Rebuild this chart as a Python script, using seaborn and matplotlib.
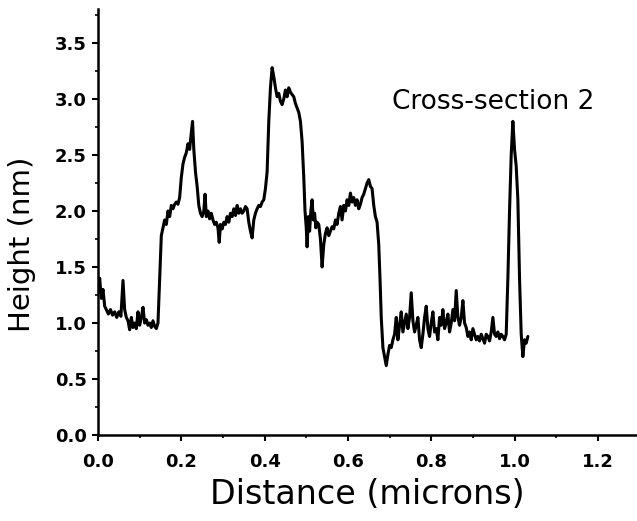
import matplotlib
matplotlib.use("Agg")
import matplotlib.pyplot as plt
from matplotlib.ticker import AutoMinorLocator
import seaborn as sns

# AFM cross-section trace
distance = [
    0.000, 0.004, 0.008, 0.012, 0.016, 0.020, 0.025, 0.030, 0.035, 0.040,
    0.045, 0.050, 0.055, 0.060, 0.064, 0.068, 0.072, 0.076, 0.080, 0.084,
    0.088, 0.092, 0.096, 0.100, 0.104, 0.108, 0.112, 0.116, 0.120, 0.124,
    0.128, 0.132, 0.136, 0.140, 0.144, 0.148, 0.152, 0.156, 0.160, 0.164,
    0.168, 0.172, 0.176, 0.180, 0.184, 0.188, 0.192, 0.196, 0.200, 0.204,
    0.208, 0.212, 0.216, 0.220, 0.224, 0.227, 0.230, 0.234, 0.238, 0.242,
    0.246, 0.250, 0.254, 0.257, 0.260, 0.264, 0.268, 0.272, 0.276, 0.280,
    0.284, 0.288, 0.291, 0.294, 0.298, 0.302, 0.306, 0.310, 0.314, 0.318,
    0.322, 0.326, 0.330, 0.334, 0.338, 0.342, 0.346, 0.350, 0.354, 0.358,
    0.362, 0.366, 0.370, 0.374, 0.378, 0.382, 0.386, 0.390, 0.394, 0.398,
    0.402, 0.406, 0.410, 0.414, 0.418, 0.422, 0.426, 0.430, 0.434, 0.438,
    0.442, 0.446, 0.450, 0.454, 0.458, 0.462, 0.466, 0.470, 0.474, 0.478,
    0.482, 0.486, 0.490, 0.494, 0.497, 0.500, 0.502, 0.505, 0.508, 0.511,
    0.514, 0.517, 0.520, 0.523, 0.526, 0.530, 0.534, 0.538, 0.542, 0.546,
    0.550, 0.554, 0.558, 0.562, 0.566, 0.570, 0.574, 0.578, 0.582, 0.586,
    0.590, 0.594, 0.598, 0.602, 0.606, 0.610, 0.614, 0.618, 0.622, 0.626,
    0.630, 0.634, 0.638, 0.642, 0.646, 0.650, 0.654, 0.658, 0.662, 0.666,
    0.670, 0.674, 0.677, 0.680, 0.684, 0.688, 0.692, 0.696, 0.700, 0.704,
    0.708, 0.712, 0.716, 0.720, 0.724, 0.728, 0.732, 0.736, 0.740, 0.744,
    0.748, 0.752, 0.756, 0.760, 0.764, 0.768, 0.772, 0.776, 0.780, 0.784,
    0.788, 0.792, 0.796, 0.800, 0.804, 0.808, 0.812, 0.816, 0.820, 0.824,
    0.828, 0.832, 0.836, 0.840, 0.844, 0.848, 0.852, 0.856, 0.860, 0.864,
    0.868, 0.872, 0.876, 0.880, 0.884, 0.888, 0.892, 0.896, 0.900, 0.904,
    0.908, 0.912, 0.916, 0.920, 0.924, 0.928, 0.932, 0.936, 0.940, 0.944,
    0.948, 0.952, 0.956, 0.960, 0.964, 0.968, 0.972, 0.976, 0.980, 0.984,
    0.988, 0.992, 0.996, 1.000, 1.004, 1.008, 1.012, 1.016, 1.020, 1.024,
    1.028, 1.032,
]
height = [
    1.28, 1.40, 1.22, 1.30, 1.15, 1.12, 1.08, 1.12, 1.07, 1.10,
    1.05, 1.10, 1.06, 1.38, 1.12, 1.05, 1.02, 0.94, 1.05, 0.96,
    1.00, 0.95, 1.10, 0.98, 1.05, 1.14, 1.00, 1.03, 0.98, 1.00,
    0.96, 1.02, 0.97, 0.95, 1.00, 1.40, 1.78, 1.85, 1.92, 1.88,
    2.00, 1.95, 2.05, 2.02, 2.06, 2.08, 2.06, 2.12, 2.30, 2.42,
    2.48, 2.52, 2.60, 2.55, 2.70, 2.80, 2.55, 2.35, 2.22, 2.05,
    1.98, 1.95, 2.00, 2.15, 1.95, 2.00, 1.93, 1.98, 1.92, 1.88,
    1.90, 1.85, 1.72, 1.88, 1.84, 1.90, 1.88, 1.95, 1.90, 1.98,
    1.95, 2.02, 1.96, 2.05, 1.98, 2.02, 1.98, 2.00, 2.04, 2.02,
    1.90, 1.82, 1.76, 1.92, 1.98, 2.02, 2.05, 2.04, 2.08, 2.10,
    2.20, 2.35, 2.80, 3.10, 3.28, 3.20, 3.10, 3.02, 3.05, 2.98,
    2.95, 3.00, 3.08, 3.02, 3.10, 3.06, 3.04, 3.02, 2.96, 2.92,
    2.88, 2.80, 2.62, 2.30, 2.00, 1.85, 1.68, 1.95, 1.82, 2.00,
    2.10, 1.92, 1.98, 1.85, 1.90, 1.88, 1.75, 1.50, 1.70, 1.80,
    1.85, 1.78, 1.82, 1.86, 1.84, 1.92, 1.88, 1.98, 2.04, 1.92,
    2.05, 2.00, 2.10, 2.05, 2.16, 2.08, 2.12, 2.05, 2.10, 2.02,
    2.06, 2.12, 2.15, 2.20, 2.25, 2.28, 2.22, 2.20, 2.05, 1.95,
    1.90, 1.70, 1.40, 1.05, 0.78, 0.70, 0.62, 0.72, 0.80, 0.78,
    0.85, 0.90, 1.05, 0.85, 0.98, 1.10, 0.92, 1.00, 1.08, 0.95,
    1.05, 1.27, 1.02, 0.92, 0.98, 1.05, 0.85, 0.78, 0.90, 1.05,
    1.15, 0.95, 0.88, 1.00, 1.10, 0.92, 0.95, 0.85, 1.05, 0.98,
    1.12, 0.95, 1.00, 1.08, 0.92, 1.00, 1.12, 1.02, 1.29, 1.05,
    0.98, 1.05, 1.20, 1.00, 0.96, 0.88, 0.92, 0.85, 0.95, 0.90,
    0.85, 0.88, 0.84, 0.90, 0.86, 0.82, 0.90, 0.88, 0.84, 0.92,
    1.05, 0.90, 0.88, 0.92, 0.86, 0.90, 0.88, 0.85, 0.90, 1.40,
    2.00, 2.50, 2.80, 2.55, 2.40, 2.10, 1.40, 0.90, 0.70, 0.85,
    0.82, 0.88,
]
xticks = [0.0, 0.2, 0.4, 0.6, 0.8, 1.0, 1.2]
yticks = [0.0, 0.5, 1.0, 1.5, 2.0, 2.5, 3.0, 3.5]
note = "Cross-section 2"

sns.set_style("ticks")
plt.rcParams['font.family'] = ['DejaVu Sans']
plt.rcParams['text.color'] = 'black'
plt.rcParams['axes.labelcolor'] = 'black'

fig = plt.figure(figsize=(6.37, 5.21), dpi=100)
ax = fig.add_axes([98 / 637, 0.165, 1 - 98 / 637, 0.817])

sns.lineplot(x=distance, y=height, color="black", linewidth=2.2,
             estimator=None, sort=False, ax=ax)

ax.set_xlim(0, 1.294)
ax.set_ylim(0, 3.8)
ax.set_xticks(xticks)
ax.set_yticks(yticks)
ax.set_xticklabels([f"{t:.1f}" for t in xticks], fontsize=13, fontweight="bold")
ax.set_yticklabels([f"{t:.1f}" for t in yticks], fontsize=13, fontweight="bold")
ax.xaxis.set_minor_locator(AutoMinorLocator(2))
ax.yaxis.set_minor_locator(AutoMinorLocator(2))
ax.tick_params(axis="both", which="major", direction="out", length=4, width=1.5,
               colors="black")
ax.tick_params(axis="both", which="minor", direction="out", length=2.5, width=1.2,
               colors="black")
ax.tick_params(axis="x", which="major", pad=9)
ax.tick_params(axis="y", which="major", pad=4)

for side in ["left", "bottom"]:
    ax.spines[side].set_linewidth(1.8)
    ax.spines[side].set_color("black")
sns.despine(ax=ax)

ax.set_xlabel("Distance (microns)", fontsize=24)
ax.set_ylabel("Height (nm)", fontsize=21)
ax.xaxis.set_label_coords(0.5, -0.1)
ax.yaxis.set_label_coords(-0.115, 0.447)

ax.text(0.707, 2.97, note, fontsize=19, ha="left", va="center", color="black")

fig.savefig("out.png", dpi=100)
